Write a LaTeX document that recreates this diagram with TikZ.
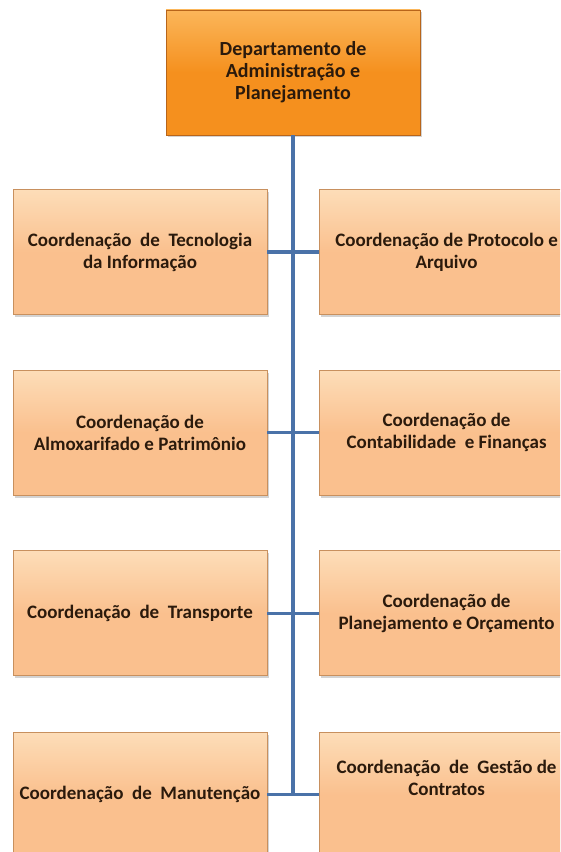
\documentclass[tikz,border=0pt]{standalone}
\usepackage{fontspec}
\setsansfont{Carlito}
\usepackage{tikz}
\usetikzlibrary{positioning,shadows}

\definecolor{deptorange}{HTML}{F5901E}
\definecolor{depttop}{HTML}{FBB65A}
\definecolor{deptedge}{HTML}{B8651A}
\definecolor{coordpeach}{HTML}{FAC08E}
\definecolor{coordtop}{HTML}{FDDDB8}
\definecolor{coordedge}{HTML}{C8905E}
\definecolor{linkblue}{HTML}{4A72A8}
\definecolor{boxtext}{HTML}{2B1A0C}

\tikzset{
  box/.style={rectangle, minimum width=254pt, minimum height=125pt, inner sep=0pt,
    align=center, font=\sffamily\bfseries\fontsize{19}{22}\selectfont, text=boxtext,
    draw=#1, line width=0.6pt,
    drop shadow={shadow xshift=1.5pt, shadow yshift=-2.5pt, opacity=0.35}},
  dept/.style={box=deptedge, top color=depttop, bottom color=deptorange, middle color=deptorange,
    font=\sffamily\bfseries\fontsize{20}{22}\selectfont},
  coord/.style={box=coordedge, top color=coordtop, bottom color=coordpeach, middle color=coordpeach},
  link/.style={draw=linkblue, line width=3.2pt}
}

\begin{document}
\begin{tikzpicture}

\useasboundingbox (0,0) rectangle (560pt,852pt);
\clip (0,0) rectangle (560pt,852pt);

% define nodes

% department

\node[dept] (dep) at (293pt,779.5pt) {Departamento de\\Administração e\\Planejamento};

% coordinations

\node[coord, below=54pt of dep, xshift=-153pt] (c1) {Coordenação \ de \ Tecnologia\\da Informação};
\node[coord, right=52pt of c1] (c2) {Coordenação de Protocolo e\\Arquivo};

\node[coord, below=55pt of c1] (c3) {Coordenação de\\Almoxarifado e Patrimônio};
\node[coord, right=52pt of c3] (c4) {Coordenação de\\Contabilidade \ e Finanças};

\node[coord, below=55pt of c3] (c5) {Coordenação \ de \ Transporte};
\node[coord, right=52pt of c5] (c6) {Coordenação de\\Planejamento e Orçamento};

\node[coord, below=56pt of c5] (c7) {Coordenação \ de \ Manutenção};
\node[coord, right=52pt of c7] (c8) {Coordenação \ de \ Gestão de\\Contratos\\[12pt]\mbox{}};

% edges

\draw[link] (dep.south) -- (dep.south |- c7.east);

\draw[link] (c1) -- (c2);
\draw[link] (c3) -- (c4);
\draw[link] (c5) -- (c6);
\draw[link] (c7) -- (c8);

\end{tikzpicture}
\end{document}
